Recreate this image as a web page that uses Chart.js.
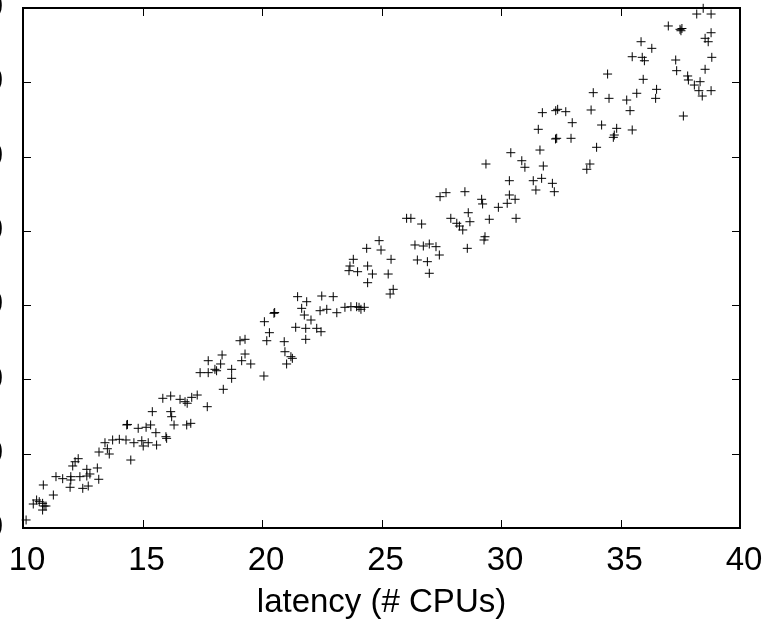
<!DOCTYPE html>
<html>
<head>
<meta charset="utf-8">
<script src="https://cdn.jsdelivr.net/npm/chart.js@4/dist/chart.umd.min.js"></script>
<style>
html,body{margin:0;padding:0;background:#fff;}
#wrap{width:766px;height:635px;position:relative;}
</style>
</head>
<body>
<div id="wrap"><canvas id="c" width="766" height="635"></canvas></div>
<script>
const xTitle = 'latency (# CPUs)';
const xTicks = [10, 15, 20, 25, 30, 35, 40];
const yTicks = [0, 10, 20, 30, 40, 50, 60, 70];

const cpus = [
 10.13,10.43,10.57,10.68,10.82,10.88,10.82,10.96,10.85,11.27,
 11.38,11.66,12.00,12.00,11.97,12.08,12.18,12.31,12.38,12.50,
 12.67,12.67,12.73,12.80,13.11,13.17,13.18,13.43,13.53,13.61,
 13.75,14.03,14.31,14.34,14.37,14.51,14.64,14.82,14.97,15.03,
 15.15,15.24,15.34,15.41,15.56,15.59,15.98,16.01,15.85,16.18,
 16.18,16.22,16.32,16.57,16.78,16.87,16.85,17.02,17.06,17.29,
 17.71,17.41,17.75,17.75,18.03,18.10,18.27,18.33,18.38,18.73,
 18.73,19.08,19.29,19.29,19.15,19.53,20.08,20.10,20.20,20.31,
 20.50,20.53,20.93,20.96,21.21,21.27,21.03,21.49,21.66,21.87,
 21.77,22.05,21.41,21.83,21.83,22.29,22.47,22.50,22.98,22.43,
 22.71,23.13,23.47,23.72,23.96,24.06,24.14,24.28,23.64,23.68,
 23.82,24.00,24.38,24.42,24.62,24.42,24.90,24.98,25.40,25.28,
 25.49,25.36,26.05,26.23,26.68,26.40,26.75,27.00,27.28,27.42,
 26.50,26.92,27.00,27.45,27.70,28.49,27.90,28.15,28.26,28.40,
 28.63,28.70,28.59,29.19,29.23,29.51,29.33,29.29,29.37,29.89,
 30.26,30.35,30.35,30.59,30.63,30.41,30.87,31.00,31.35,31.46,
 31.56,31.73,32.29,32.37,32.71,32.98,32.33,32.28,32.93,31.63,
 31.77,31.70,32.15,32.23,33.59,33.72,34.00,34.21,33.77,33.86,
 34.52,34.46,34.84,34.74,34.70,35.49,35.26,35.40,35.68,35.95,
 35.49,35.91,36.00,35.86,36.31,37.00,37.49,37.53,37.57,38.19,
 38.46,38.79,38.79,38.54,38.67,38.82,38.54,37.31,37.35,37.81,
 37.84,38.09,38.33,38.28,38.42,38.79,36.51,36.47,37.63
];

const values = [
 1.08,3.23,3.77,3.54,3.32,2.96,2.42,2.96,5.79,4.44,
 6.91,6.64,6.91,6.46,5.48,8.35,8.92,9.33,6.91,5.34,
 7.90,7.00,5.65,7.27,8.08,6.56,10.23,11.48,10.67,9.96,
 11.85,11.94,11.85,13.87,13.94,9.15,11.48,13.42,11.75,11.04,
 13.56,11.48,13.87,15.66,12.83,11.17,12.29,12.07,17.46,17.77,
 15.66,14.98,13.87,17.32,17.00,16.79,13.87,14.09,17.59,17.90,
 16.33,20.91,20.91,22.52,21.36,21.17,22.08,23.29,18.67,21.36,
 20.15,25.21,25.40,23.42,22.52,22.08,20.46,27.77,25.21,26.29,
 28.90,29.01,25.08,23.73,23.06,22.84,22.08,31.14,29.57,30.46,
 28.67,28.00,27.02,26.88,25.40,26.88,26.42,31.23,31.14,29.25,
 29.44,28.98,29.71,29.79,29.79,29.71,29.44,29.71,34.64,35.27,
 36.17,34.50,37.65,35.27,34.19,33.02,38.68,37.42,36.17,34.19,
 32.13,31.50,41.69,41.69,40.92,38.10,37.96,38.23,37.87,36.75,
 36.08,35.85,34.29,44.60,45.14,45.27,41.69,41.02,40.65,40.12,
 42.44,41.23,37.65,44.25,43.62,41.56,39.21,38.77,49.00,43.17,
 43.71,46.75,44.83,44.25,41.69,50.52,49.44,48.56,46.75,45.50,
 53.67,55.91,56.18,56.36,56.04,54.56,52.46,52.37,52.46,50.88,
 48.73,47.07,46.40,45.27,48.29,49.00,51.25,54.25,56.27,58.60,
 57.84,61.11,53.80,52.90,52.59,53.58,57.61,56.18,58.52,60.40,
 63.44,63.36,62.90,65.46,64.57,67.58,67.13,66.94,67.24,69.19,
 69.96,69.19,66.67,65.92,65.46,63.36,61.75,63.00,61.56,60.85,
 60.31,59.63,60.08,58.87,58.15,58.87,59.05,57.84,55.46
];

const FONT = "'Liberation Sans', Arial, Helvetica, sans-serif";

// Box around the plot with inward (mirrored) tick marks, positioned by the scales
const framePlugin = {
  id: 'frame',
  afterDatasetsDraw(chart) {
    const {ctx, chartArea: a, scales: {x, y}} = chart;
    const len = 8;
    ctx.save();
    ctx.strokeStyle = '#000';
    ctx.lineWidth = 1;
    ctx.beginPath();
    x.ticks.forEach(t => {
      const px = Math.round(x.getPixelForValue(t.value)) + 0.5;
      ctx.moveTo(px, a.bottom); ctx.lineTo(px, a.bottom - len);
      ctx.moveTo(px, a.top); ctx.lineTo(px, a.top + len);
    });
    y.ticks.forEach(t => {
      const py = Math.round(y.getPixelForValue(t.value)) + 0.5;
      ctx.moveTo(a.left, py); ctx.lineTo(a.left + len, py);
      ctx.moveTo(a.right, py); ctx.lineTo(a.right - len, py);
    });
    ctx.stroke();
    ctx.lineWidth = 2;
    ctx.strokeRect(a.left, a.top, a.right - a.left, a.bottom - a.top);
    ctx.restore();
  }
};

const points = cpus.map((c, i) => ({x: c, y: values[i]}));

new Chart(document.getElementById('c'), {
  type: 'scatter',
  data: {
    datasets: [{
      data: points,
      pointStyle: 'cross',
      pointRadius: 4.5,
      pointBorderWidth: 1,
      borderColor: '#000',
      backgroundColor: '#000',
      pointHoverRadius: 4.5,
      clip: false
    }]
  },
  options: {
    responsive: false,
    animation: false,
    events: [],
    layout: {padding: {top: 8, right: 26, left: 0, bottom: 0}},
    plugins: {legend: {display: false}, tooltip: {enabled: false}},
    scales: {
      x: {
        type: 'linear',
        min: xTicks[0],
        max: xTicks[xTicks.length - 1],
        afterBuildTicks: s => { s.ticks = xTicks.map(v => ({value: v})); },
        afterFit: s => { s.height = 107; s.paddingLeft = 0; s.paddingRight = 0; },
        grid: {display: false, drawTicks: false},
        border: {display: false},
        ticks: {
          color: '#000',
          font: {family: FONT, size: 33},
          padding: 13,
          labelOffset: 4,
          maxRotation: 0,
          autoSkip: false
        },
        title: {
          display: true,
          text: xTitle,
          color: '#000',
          font: {family: FONT, size: 33},
          padding: {top: 0, bottom: 12}
        }
      },
      y: {
        type: 'linear',
        min: yTicks[0],
        max: yTicks[yTicks.length - 1],
        afterBuildTicks: s => { s.ticks = yTicks.map(v => ({value: v})); },
        afterFit: s => { s.width = 23; s.paddingTop = 0; s.paddingBottom = 0; },
        grid: {display: false, drawTicks: false},
        border: {display: false},
        ticks: {
          color: '#000',
          font: {family: FONT, size: 33},
          padding: 20,
          autoSkip: false
        }
      }
    }
  },
  plugins: [framePlugin]
});
</script>
</body>
</html>
